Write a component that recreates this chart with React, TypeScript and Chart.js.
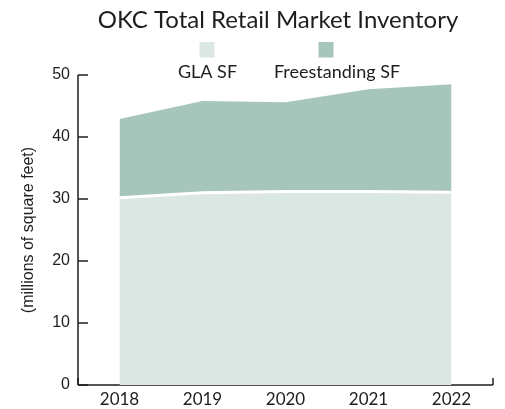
import React, { useEffect, useRef } from "react";
import { Chart, registerables } from "chart.js";

Chart.register(...registerables);

const TITLE = "OKC Total Retail Market Inventory";
const Y_TITLE = "(millions of square feet)";
const YEARS = ["2018", "2019", "2020", "2021", "2022"];
const GLA_SF = [30.2, 31.0, 31.2, 31.2, 31.1];
const FREESTANDING_SF = [12.7, 14.8, 14.4, 16.5, 17.4];
const SERIES_LABELS = ["GLA SF", "Freestanding SF"];
const SERIES_COLORS = ["#dbe7e2", "#a6c6bb"];
const Y_MIN = 0;
const Y_MAX = 50;
const Y_STEP = 10;

const TEXT_FONT = "Lato, 'Noto Sans', sans-serif";
const AXIS_FONT = "'Liberation Sans', Arial, sans-serif";
const INK = "#1e1e1e";

const decorPlugin = {
  id: "decor",
  beforeDatasetsDraw(chart: any) {
    const { ctx, chartArea, scales } = chart;
    const x = scales.x;
    const y = scales.y;
    ctx.save();
    ctx.strokeStyle = INK;
    ctx.lineWidth = 1.5;
    // y axis line
    ctx.beginPath();
    ctx.moveTo(chartArea.left, y.getPixelForValue(Y_MAX));
    ctx.lineTo(chartArea.left, y.getPixelForValue(Y_MIN));
    ctx.stroke();
    // y ticks inward
    y.ticks.forEach((t: any) => {
      const py = y.getPixelForValue(t.value);
      ctx.beginPath();
      ctx.moveTo(chartArea.left, py);
      ctx.lineTo(chartArea.left + 10, py);
      ctx.stroke();
    });
    // x axis line
    const by = y.getPixelForValue(Y_MIN);
    ctx.beginPath();
    ctx.moveTo(chartArea.left, by);
    ctx.lineTo(chartArea.right, by);
    ctx.stroke();
    // x boundary ticks (inward)
    for (let i = 0; i <= YEARS.length; i++) {
      const px = x.getPixelForValue(i - 0.5);
      ctx.beginPath();
      ctx.moveTo(px, by);
      ctx.lineTo(px, by - 7);
      ctx.stroke();
    }
    ctx.restore();
  },
  afterDraw(chart: any) {
    const { ctx } = chart;
    ctx.save();
    // title
    ctx.fillStyle = INK;
    ctx.font = `24px ${TEXT_FONT}`;
    ctx.textAlign = "center";
    ctx.textBaseline = "alphabetic";
    ctx.fillText(TITLE, 278, 28);
    // legend
    const boxCenters = [207, 326];
    const labelCenters = [207.5, 337];
    chart.data.datasets.forEach((ds: any, i: number) => {
      ctx.fillStyle = ds.backgroundColor;
      ctx.fillRect(boxCenters[i] - 7.5, 42, 15, 15.5);
      ctx.fillStyle = INK;
      ctx.font = `18px ${TEXT_FONT}`;
      ctx.fillText(ds.label, labelCenters[i], 78);
    });
    ctx.restore();
  },
};

export default function App() {
  const canvasRef = useRef<HTMLCanvasElement | null>(null);

  useEffect(() => {
    const canvas = canvasRef.current;
    if (!canvas) return;
    const chart = new Chart(canvas, {
      type: "line",
      data: {
        labels: YEARS,
        datasets: [
          {
            label: SERIES_LABELS[0],
            data: GLA_SF,
            backgroundColor: SERIES_COLORS[0],
            borderColor: "#ffffff",
            borderWidth: 3,
            fill: "origin",
            pointRadius: 0,
            tension: 0,
          },
          {
            label: SERIES_LABELS[1],
            data: FREESTANDING_SF,
            backgroundColor: SERIES_COLORS[1],
            borderColor: SERIES_COLORS[1],
            borderWidth: 0,
            fill: "-1",
            pointRadius: 0,
            tension: 0,
          },
        ],
      },
      options: {
        responsive: false,
        animation: false,
        layout: { padding: { top: 75, left: 0, right: 12, bottom: 0 } },
        plugins: {
          legend: { display: false },
          title: { display: false },
          tooltip: { enabled: false },
        },
        scales: {
          x: {
            type: "category",
            offset: true,
            grid: { display: false, drawTicks: false, offset: true },
            border: { display: false },
            ticks: {
              color: INK,
              font: { family: TEXT_FONT, size: 17 },
              padding: 4,
              maxRotation: 0,
            },
            afterFit: (s: any) => {
              s.height = 24;
            },
          },
          y: {
            stacked: true,
            min: Y_MIN,
            max: Y_MAX,
            grid: { display: false, drawTicks: false },
            border: { display: false },
            ticks: {
              stepSize: Y_STEP,
              color: INK,
              font: { family: AXIS_FONT, size: 16 },
              padding: 8,
            },
            title: {
              display: true,
              text: Y_TITLE,
              color: INK,
              font: { family: AXIS_FONT, size: 16 },
              padding: { top: 19, bottom: 0 },
            },
            afterFit: (s: any) => {
              s.width = 78;
            },
          },
        },
      },
      plugins: [decorPlugin],
    });
    return () => chart.destroy();
  }, []);

  return (
    <div style={{ position: "absolute", left: 0, top: 0, width: 505, height: 409, background: "#ffffff" }}>
      <canvas ref={canvasRef} width={505} height={409} style={{ display: "block" }} />
    </div>
  );
}
